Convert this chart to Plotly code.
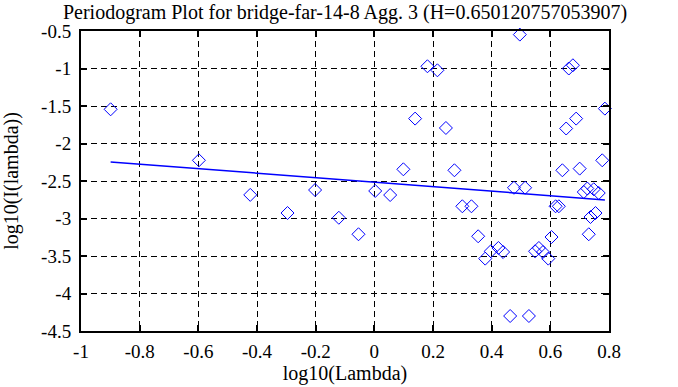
import plotly.graph_objects as go

H = 0.650120757053907
slope = 1 - 2 * H
intercept = -2.516

x_vals = [-0.899, -0.598, -0.423, -0.202, -0.296, -0.121, -0.054, 0.003, 0.054, 0.099,
          0.139, 0.181, 0.215, 0.244, 0.273, 0.300, 0.331, 0.354, 0.378, 0.397,
          0.423, 0.439, 0.463, 0.476, 0.496, 0.514, 0.527, 0.548, 0.561, 0.575,
          0.593, 0.604, 0.618, 0.629, 0.641, 0.654, 0.663, 0.677, 0.688, 0.700,
          0.714, 0.726, 0.731, 0.737, 0.748, 0.754, 0.765, 0.777, 0.786]
y_vals = [-1.544, -2.224, -2.685, -2.62, -2.927, -2.99, -3.21, -2.633, -2.687, -2.344,
          -1.668, -0.97, -1.024, -1.793, -2.357, -2.837, -2.837, -3.237, -3.535, -3.437,
          -3.393, -3.447, -4.30, -2.59, -0.548, -2.59, -4.30, -3.437, -3.393, -3.447,
          -3.535, -3.247, -2.837, -2.837, -2.357, -1.80, -1.0, -0.957, -1.668, -2.335,
          -2.647, -2.60, -3.21, -2.98, -2.61, -2.927, -2.66, -2.224, -1.535]

x_ticks = [-1, -0.8, -0.6, -0.4, -0.2, 0, 0.2, 0.4, 0.6, 0.8]
x_ticktext = ["-1", "-0.8", "-0.6", "-0.4", "-0.2", "0", "0.2", "0.4", "0.6", "0.8"]
y_ticks = [-4.5, -4, -3.5, -3, -2.5, -2, -1.5, -1, -0.5]
y_ticktext = ["-4.5", "-4", "-3.5", "-3", "-2.5", "-2", "-1.5", "-1", "-0.5"]

line_x = [min(x_vals), max(x_vals)]
line_y = [intercept + slope * v for v in line_x]

fig = go.Figure()
fig.add_trace(go.Scatter(
    x=x_vals, y=y_vals, mode="markers",
    marker=dict(symbol="diamond-open", size=10, color="#0000ff", line=dict(width=1, color="#0000ff")),
    showlegend=False, cliponaxis=False,
))
fig.add_trace(go.Scatter(
    x=line_x, y=line_y, mode="lines",
    line=dict(color="#0000ff", width=1.5), showlegend=False,
))

tick_font = dict(family="Liberation Serif", size=19, color="black")
title_font = dict(family="Liberation Serif", size=20, color="black")
axis_common = dict(
    showline=True, linewidth=2, linecolor="black", mirror="ticks",
    ticks="inside", ticklen=6, tickwidth=2, tickcolor="black",
    showgrid=True, gridcolor="black", gridwidth=1, griddash="6px,4px",
    zeroline=False, tickfont=tick_font, automargin=False,
)
fig.update_layout(
    width=678, height=387,
    margin=dict(l=81, r=69, t=31, b=56),
    paper_bgcolor="white", plot_bgcolor="white",
    font=title_font,
    title=dict(text="Periodogram Plot for bridge-far-14-8 Agg. 3 (H=0.650120757053907)",
               x=0.5, xref="paper", xanchor="center", y=1 - 12 / 387, yanchor="middle",
               font=title_font),
    xaxis=dict(range=[-1, 0.8], tickvals=x_ticks, ticktext=x_ticktext, ticklabelstandoff=2,
               title=dict(text="log10(Lambda)", standoff=2, font=title_font), **axis_common),
    yaxis=dict(range=[-4.5, -0.5], tickvals=y_ticks, ticktext=y_ticktext, ticklabelstandoff=4,
               title=dict(text="log10(I(lambda))", standoff=22, font=title_font), **axis_common),
)
fig.write_html("out.html", config={"displayModeBar": False},
               post_script="document.body.style.margin='0';document.body.style.overflow='hidden';")
